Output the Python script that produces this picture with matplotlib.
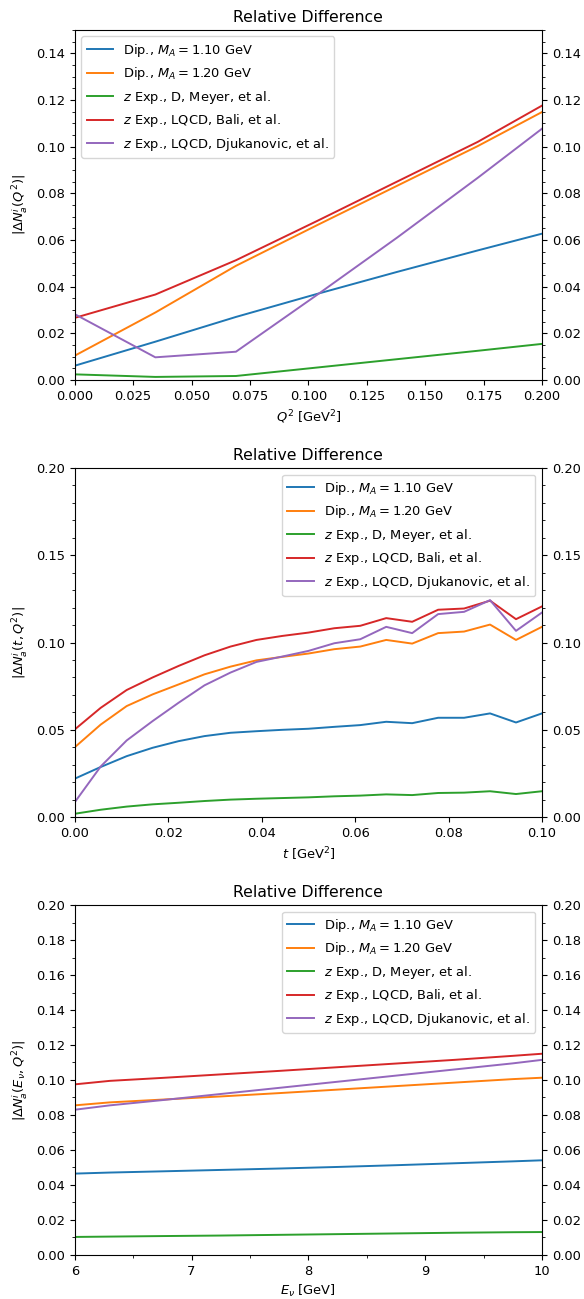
import numpy as np
import matplotlib
matplotlib.use("Agg")
import matplotlib.pyplot as plt
from matplotlib.ticker import MultipleLocator

plt.rcParams["font.size"] = 9.4
plt.rcParams["lines.linewidth"] = 1.4

labels = [r"Dip., $M_A = 1.10$ GeV",
          r"Dip., $M_A = 1.20$ GeV",
          r"$z$ Exp., D, Meyer, et al.",
          r"$z$ Exp., LQCD, Bali, et al.",
          r"$z$ Exp., LQCD, Djukanovic, et al."]

# panel 1: vs Q^2
q2 = [0.0, 0.0345, 0.069, 0.1035, 0.138, 0.1725, 0.207]
q2_dip110 = [0.0061, 0.0164, 0.0270, 0.0368, 0.0463, 0.0555, 0.0645]
q2_dip120 = [0.0104, 0.0289, 0.0489, 0.0662, 0.0832, 0.1002, 0.1185]
q2_meyer = [0.0024, 0.0013, 0.0017, 0.0053, 0.0089, 0.0125, 0.0162]
q2_bali = [0.0266, 0.0366, 0.0513, 0.0680, 0.0850, 0.1020, 0.1215]
q2_djuk = [0.0282, 0.0097, 0.0121, 0.0363, 0.0610, 0.0866, 0.1130]

# panel 2: vs t
t = np.linspace(0.0, 0.1, 19)
t_dip110 = [0.0220, 0.0287, 0.0349, 0.0397, 0.0435, 0.0464, 0.0483, 0.0492, 0.0500, 0.0506,
            0.0517, 0.0527, 0.0546, 0.0538, 0.0569, 0.0569, 0.0594, 0.0542, 0.0594]
t_dip120 = [0.0400, 0.0530, 0.0636, 0.0703, 0.0760, 0.0818, 0.0862, 0.0898, 0.0918, 0.0937,
            0.0962, 0.0977, 0.1015, 0.0994, 0.1054, 0.1063, 0.1103, 0.1015, 0.1090]
t_meyer = [0.0019, 0.0042, 0.0060, 0.0073, 0.0082, 0.0092, 0.0100, 0.0105, 0.0109, 0.0113,
           0.0119, 0.0123, 0.0130, 0.0126, 0.0138, 0.0140, 0.0148, 0.0132, 0.0148]
t_bali = [0.0502, 0.0626, 0.0728, 0.0800, 0.0866, 0.0927, 0.0977, 0.1015, 0.1038, 0.1057,
          0.1082, 0.1096, 0.1140, 0.1119, 0.1188, 0.1195, 0.1240, 0.1134, 0.1207]
t_djuk = [0.0085, 0.0290, 0.0439, 0.0550, 0.0655, 0.0755, 0.0828, 0.0889, 0.0920, 0.0952,
          0.0996, 0.1019, 0.1090, 0.1054, 0.1163, 0.1176, 0.1243, 0.1067, 0.1172]

# panel 3: vs E_nu
enu = [6.0, 6.3, 6.75, 7.25, 7.75, 8.25, 8.75, 9.25, 9.75, 10.0]
e_dip110 = [0.0465, 0.0471, 0.0478, 0.0486, 0.0494, 0.0503, 0.0513, 0.0524, 0.0535, 0.0541]
e_dip120 = [0.0855, 0.0872, 0.0888, 0.0906, 0.0925, 0.0945, 0.0965, 0.0985, 0.1005, 0.1013]
e_meyer = [0.0103, 0.0105, 0.0108, 0.0111, 0.0115, 0.0119, 0.0123, 0.0127, 0.0130, 0.0131]
e_bali = [0.0975, 0.0995, 0.1012, 0.1032, 0.1052, 0.1073, 0.1094, 0.1115, 0.1138, 0.1150]
e_djuk = [0.0830, 0.0855, 0.0885, 0.0920, 0.0955, 0.0990, 0.1025, 0.1060, 0.1095, 0.1115]

fig = plt.figure(figsize=(5.84, 12.99), dpi=100)
ax1 = fig.add_axes([0.128, 0.7075, 0.80, 0.2695])
ax2 = fig.add_axes([0.128, 0.371, 0.80, 0.2687])
ax3 = fig.add_axes([0.128, 0.0339, 0.80, 0.2694])

panels = [
    (ax1, q2, [q2_dip110, q2_dip120, q2_meyer, q2_bali, q2_djuk]),
    (ax2, t, [t_dip110, t_dip120, t_meyer, t_bali, t_djuk]),
    (ax3, enu, [e_dip110, e_dip120, e_meyer, e_bali, e_djuk]),
]
for ax, x, ys in panels:
    for y, lab in zip(ys, labels):
        ax.plot(x, y, label=lab)
    ax.set_title("Relative Difference")
    ax.tick_params(which="both", right=True, labelright=True)

ax1.set_xlim(0, 0.2)
ax1.set_ylim(0, 0.15)
ax1.xaxis.set_major_locator(MultipleLocator(0.025))
ax1.yaxis.set_major_locator(MultipleLocator(0.02))
ax1.yaxis.set_minor_locator(MultipleLocator(0.005))
ax1.set_xlabel(r"$Q^2$ [GeV$^2$]")
ax1.set_ylabel(r"$|\Delta N_a^i(Q^2)|$")
ax1.legend(loc="upper left")

ax2.set_xlim(0, 0.1)
ax2.set_ylim(0, 0.2)
ax2.xaxis.set_major_locator(MultipleLocator(0.02))
ax2.yaxis.set_major_locator(MultipleLocator(0.05))
ax2.yaxis.set_minor_locator(MultipleLocator(0.01))
ax2.set_xlabel(r"$t$ [GeV$^2$]")
ax2.set_ylabel(r"$|\Delta N_a^i(t, Q^2)|$")
ax2.legend(loc="upper right")

ax3.set_xlim(6, 10)
ax3.set_ylim(0, 0.2)
ax3.xaxis.set_major_locator(MultipleLocator(1))
ax3.xaxis.set_minor_locator(MultipleLocator(0.5))
ax3.yaxis.set_major_locator(MultipleLocator(0.02))
ax3.yaxis.set_minor_locator(MultipleLocator(0.01))
ax3.set_xlabel(r"$E_\nu$ [GeV]")
ax3.set_ylabel(r"$|\Delta N_a^i(E_\nu, Q^2)|$")
ax3.legend(loc="upper right")

fig.savefig("out.png", dpi=100)
